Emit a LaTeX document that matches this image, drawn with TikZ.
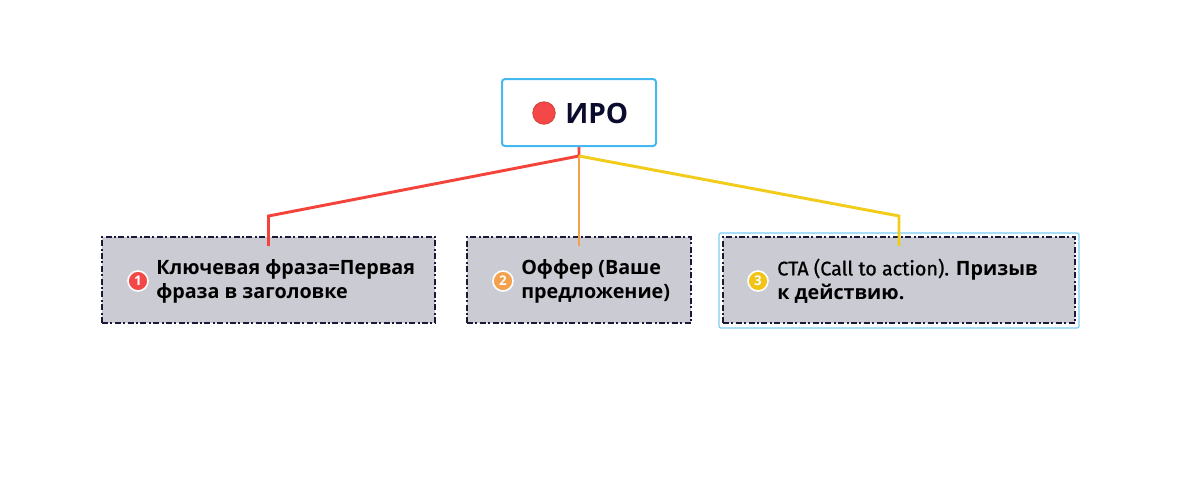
\documentclass[tikz,border=0pt]{standalone}
\usepackage{fontspec}
\setmainfont{Open Sans}
\newfontfamily\ctafont{Fira Sans}[FakeBold=0.8]
\definecolor{navy}{HTML}{1A1A38}
\definecolor{boxgray}{HTML}{CBCBD3}
\definecolor{selblue}{HTML}{45B8F0}
\definecolor{lred}{HTML}{F4433A}
\definecolor{lorange}{HTML}{F5A04A}
\definecolor{lyellow}{HTML}{F2CC1A}
\definecolor{dotred}{HTML}{F44848}
\definecolor{inktext}{HTML}{0B0B2E}
\begin{document}
\begin{tikzpicture}[x=0.75pt,y=-0.75pt,
  cbox/.style={draw=navy, fill=boxgray, line width=1.5pt,
    dash pattern=on 4.5pt off 1.8pt on 1.5pt off 1.8pt, minimum height=64.5pt, inner sep=0pt},
  topbox/.style={draw=selblue, fill=white, line width=1.5pt, rounded corners=2.25pt,
    minimum width=115.5pt, minimum height=50.25pt, inner sep=0pt},
  badge/.style={circle, draw=white, line width=1.2pt, minimum size=15pt, inner sep=0pt,
    text=white, font=\fontsize{10}{10}\selectfont\bfseries},
  label/.style={anchor=west, align=left, inner sep=0pt, text=black,
    font=\fontsize{14.8}{18}\selectfont\bfseries},
  conn/.style={line width=2.2pt, line join=miter}
]
\useasboundingbox (0,0) rectangle (1200,476);

\node[topbox] (top) at (579,112.5) {};
\node[circle, fill=dotred, draw=lred!80!black, line width=0.4pt, minimum size=17pt, inner sep=0pt] (dot) at (544,113) {};
\node[anchor=west, inner sep=0pt, text=inktext, font=\fontsize{21}{21}\selectfont\bfseries] (iro) at (565,113) {ИРО};

\node[cbox, minimum width=249.75pt] (b1) at (268.5,280) {};
\node[cbox, minimum width=168pt] (b2) at (579,280) {};
\node[cbox, minimum width=264pt] (b3) at (899,280) {};
\draw[selblue!70, line width=0.9pt, rounded corners=1.5pt]
  ([shift={(-3,-3)}]b3.north west) rectangle ([shift={(3,4)}]b3.south east);

\node[badge, fill=dotred] (n1) at (138,281) {1};
\node[badge, fill=lorange] (n2) at (503,281) {2};
\node[badge, fill=lyellow!90!orange] (n3) at (758,281) {3};

\node[label] (t1) at (156,281) {Ключевая фраза=Первая\\фраза в заголовке};
\node[label] (t2) at (521,281) {Оффер (Ваше\\предложение)};
\node[label] (t3) at (777,281) {{\ctafont\mdseries CTA (Call to action).} Призыв\\к действию.};

\coordinate (j) at (579,156);
\coordinate (k1) at (268.5,216);
\coordinate (k3) at (899,216);
\draw[conn, lred] (top.south) -- (j) -- (k1) -- ([yshift=-7.5pt]b1.north);
\draw[conn, lorange] (j) -- ([yshift=-7.5pt]b2.north);
\draw[conn, lyellow] (j) -- (k3) -- ([yshift=-7.5pt]b3.north);
\end{tikzpicture}
\end{document}
